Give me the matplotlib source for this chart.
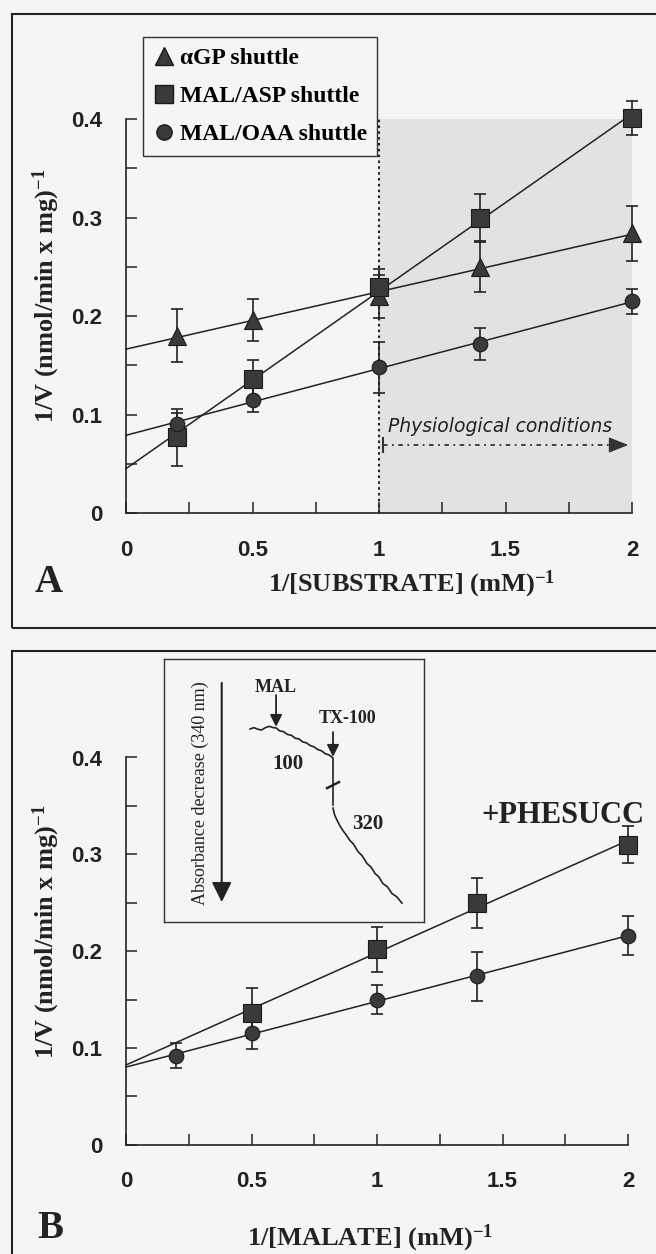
import numpy as np
import matplotlib
matplotlib.use('Agg')
import matplotlib.pyplot as plt
from matplotlib.lines import Line2D
from matplotlib.patches import Rectangle
from matplotlib.ticker import MultipleLocator, FuncFormatter

plt.rcParams['mathtext.fontset'] = 'custom'
plt.rcParams['mathtext.rm'] = 'Liberation Serif'
plt.rcParams['mathtext.bf'] = 'Liberation Serif:bold'
plt.rcParams['mathtext.it'] = 'Liberation Serif:italic'

# ---- panel A: 1/V vs 1/[substrate] ----
x_a = [0.2, 0.5, 1.0, 1.4, 2.0]
agp_y = [0.180, 0.196, 0.220, 0.250, 0.284]
agp_err = [0.027, 0.021, 0.022, 0.025, 0.028]
asp_y = [0.077, 0.136, 0.230, 0.300, 0.401]
asp_err = [0.029, 0.020, 0.018, 0.024, 0.017]
oaa_y = [0.091, 0.115, 0.148, 0.172, 0.215]
oaa_err = [0.011, 0.012, 0.026, 0.016, 0.013]
legend_labels = ['\u03b1GP shuttle', 'MAL/ASP shuttle', 'MAL/OAA shuttle']

# ---- panel B: +PHESUCC ----
x_b_asp = [0.5, 1.0, 1.4, 2.0]
b_asp_y = [0.136, 0.202, 0.250, 0.310]
b_asp_err = [0.026, 0.023, 0.026, 0.019]
x_b_oaa = [0.2, 0.5, 1.0, 1.4, 2.0]
b_oaa_y = [0.092, 0.116, 0.150, 0.174, 0.216]
b_oaa_err = [0.013, 0.017, 0.015, 0.025, 0.020]

# ---- inset: absorbance trace (arbitrary units, 0-100 box) ----
trace1_x = [33.1, 34.6, 36.0, 37.5, 39.0, 40.5, 42.0, 43.1, 44.6, 46.0, 47.5, 49.0,
            50.4, 51.9, 53.3, 54.8, 56.2, 57.7, 59.1, 60.6, 62.0, 63.5, 65.0, 65.0]
trace1_y = [73.4, 73.9, 73.3, 73.0, 73.9, 74.4, 73.9, 73.8, 72.6, 72.4, 71.3, 71.0,
            69.9, 69.6, 68.5, 68.1, 67.1, 66.6, 65.6, 65.1, 64.0, 63.5, 62.4, 44.5]
trace2_x = [65.0, 65.6, 66.5, 67.6, 68.8, 70.0, 71.5, 72.9, 74.6, 76.2, 78.1, 79.6,
            81.2, 82.6, 84.2, 85.9, 87.7, 89.5, 91.5]
trace2_y = [43.3, 40.8, 38.8, 36.7, 34.8, 33.2, 31.0, 29.6, 26.8, 25.2, 22.2, 20.9,
            18.4, 17.2, 14.6, 13.4, 10.8, 9.6, 7.2]
break_x = [62.7, 67.3]
break_y = [50.9, 53.2]

W, H = 656, 1254
bg = '#f5f5f5'
ink = '#222222'
mface = '#3a3a3a'


def fx(px):
    return px / W


def fy(py):
    return 1 - py / H


fig = plt.figure(figsize=(W / 100, H / 100), dpi=100, facecolor=bg)

serif = 'Liberation Serif'
sans = 'Liberation Sans'


def style_axes(ax):
    ax.set_xlim(0, 2)
    ax.set_ylim(0, 0.4)
    ax.set_facecolor('none')
    for s in ['top', 'right']:
        ax.spines[s].set_visible(False)
    for s in ['left', 'bottom']:
        ax.spines[s].set_linewidth(1.2)
        ax.spines[s].set_color(ink)
    ax.xaxis.set_major_locator(MultipleLocator(0.5))
    ax.xaxis.set_minor_locator(MultipleLocator(0.25))
    ax.yaxis.set_major_locator(MultipleLocator(0.1))
    ax.yaxis.set_minor_locator(MultipleLocator(0.05))
    fmt = FuncFormatter(lambda v, p: '%g' % round(v, 3))
    ax.xaxis.set_major_formatter(fmt)
    ax.yaxis.set_major_formatter(fmt)
    ax.tick_params(which='both', direction='in', length=8, width=1.1, color=ink)
    ax.tick_params(axis='y', pad=17)
    ax.tick_params(axis='x', pad=19)
    for lab in ax.get_xticklabels() + ax.get_yticklabels():
        lab.set_fontfamily(sans)
        lab.set_fontweight('bold')
        lab.set_fontsize(16)
        lab.set_color(ink)


def series(ax, x, y, err, marker, ms):
    k, b = np.polyfit(x, y, 1)
    xs = np.array([0.0, 2.0])
    ax.plot(xs, b + k * xs, '-', color=ink, lw=1.1, zorder=2, clip_on=False)
    ax.errorbar(x, y, yerr=err, fmt='none', ecolor=ink, elinewidth=1.2,
                capsize=4.5, capthick=1.2, zorder=3, clip_on=False)
    ax.plot(x, y, linestyle='none', marker=marker, ms=ms, mfc=mface, mec='#1a1a1a',
            mew=0.8, zorder=4, clip_on=False)


# ============ Panel A ============
ax_a = fig.add_axes([fx(126), fy(513.3), fx(632) - fx(126), fy(119) - fy(513.3)])
ax_a.fill_between([1, 2], 0, 0.4, color='#e2e2e2', lw=0, zorder=0)
ax_a.plot([1, 1], [0, 0.4], linestyle=(0, (1.2, 1.6)), color=ink, lw=1.5, zorder=1)

series(ax_a, x_a, agp_y, agp_err, '^', 12.5)
series(ax_a, x_a, asp_y, asp_err, 's', 13)
series(ax_a, x_a, oaa_y, oaa_err, 'o', 10.5)
style_axes(ax_a)

ax_a.text(1.036, 0.0825, 'Physiological conditions', fontfamily='DejaVu Sans',
          style='oblique', fontsize=13.5, color=ink, ha='left', va='baseline')
ax_a.plot([1.016, 1.93], [0.0693, 0.0693], linestyle=(0, (2.5, 2.5, 1, 2.5)),
          lw=1.3, color='#333333')
ax_a.annotate('', xy=(1.985, 0.0693), xytext=(1.93, 0.0693),
              arrowprops=dict(arrowstyle='-|>,head_length=0.55,head_width=0.22',
                              lw=1.0, color='#333333', mutation_scale=22,
                              shrinkA=0, shrinkB=0))
ax_a.plot([1.016], [0.0693], marker='|', ms=11, mew=1.5, color='#333333')

handles = [Line2D([], [], ls='none', marker='^', ms=13.5, mfc=mface, mec='#1a1a1a'),
           Line2D([], [], ls='none', marker='s', ms=13, mfc=mface, mec='#1a1a1a'),
           Line2D([], [], ls='none', marker='o', ms=11, mfc=mface, mec='#1a1a1a')]
leg = ax_a.legend(handles, legend_labels, loc='upper left',
                  bbox_to_anchor=(fx(143), fy(37)), bbox_transform=fig.transFigure,
                  borderaxespad=0, fancybox=False, edgecolor='#333333', facecolor=bg,
                  framealpha=1, borderpad=0.45, handlelength=0.85, handletextpad=0.25,
                  labelspacing=0.7, prop=dict(family=serif, weight='bold', size=17))
leg.get_frame().set_linewidth(1.0)

# ============ Panel B ============
ax_b = fig.add_axes([fx(126), fy(1144.9), fx(628) - fx(126), fy(757.5) - fy(1144.9)])
series(ax_b, x_b_asp, b_asp_y, b_asp_err, 's', 13)
series(ax_b, x_b_oaa, b_oaa_y, b_oaa_err, 'o', 10.5)
style_axes(ax_b)

# inset
ax_in = fig.add_axes([fx(164), fy(922), fx(424) - fx(164), fy(659) - fy(922)])
ax_in.set_xlim(0, 100)
ax_in.set_ylim(0, 100)
ax_in.set_facecolor(bg)
ax_in.set_xticks([])
ax_in.set_yticks([])
for s in ax_in.spines.values():
    s.set_linewidth(1.0)
    s.set_color('#333333')
ax_in.plot(trace1_x, trace1_y, color=ink, lw=1.2)
ax_in.plot(trace2_x, trace2_y, color=ink, lw=1.2)
ax_in.plot(break_x, break_y, color=ink, lw=1.8)
ax_in.annotate('', xy=(22.2, 7.6), xytext=(22.2, 90.9),
               arrowprops=dict(arrowstyle='-|>', lw=1.5, color=ink,
                               mutation_scale=30, shrinkA=0, shrinkB=0))
ax_in.annotate('', xy=(43.1, 74.2), xytext=(43.1, 86.3),
               arrowprops=dict(arrowstyle='-|>', lw=1.3, color=ink,
                               mutation_scale=18, shrinkA=0, shrinkB=0))
ax_in.annotate('', xy=(65.0, 62.8), xytext=(65.0, 72.2),
               arrowprops=dict(arrowstyle='-|>', lw=1.3, color=ink,
                               mutation_scale=18, shrinkA=0, shrinkB=0))
ax_in.text(13.8, 49, 'Absorbance decrease (340 nm)', rotation=90, fontfamily=serif,
           fontsize=13, ha='center', va='center', color=ink)
ax_in.text(43.1, 89.0, 'MAL', fontfamily=serif, fontweight='bold', fontsize=13,
           ha='center', va='center', color=ink)
ax_in.text(70.4, 77.2, 'TX-100', fontfamily=serif, fontweight='bold', fontsize=13,
           ha='center', va='center', color=ink)
ax_in.text(47.7, 60.1, '100', fontfamily=serif, fontweight='bold', fontsize=15,
           ha='center', va='center', color=ink)
ax_in.text(78.5, 37.3, '320', fontfamily=serif, fontweight='bold', fontsize=15,
           ha='center', va='center', color=ink)

# ============ labels and frames ============
ylab = r'1/V (nmol/min x mg)$^{\mathbf{-1}}$'
fig.text(fx(46), fy(296), ylab, rotation=90, fontfamily=serif, fontweight='bold',
         fontsize=19, ha='center', va='center', color=ink)
fig.text(fx(46), fy(932), ylab, rotation=90, fontfamily=serif, fontweight='bold',
         fontsize=19, ha='center', va='center', color=ink)
fig.text(fx(268), fy(591), r'1/[SUBSTRATE] (mM)$^{\mathbf{-1}}$', fontfamily=serif,
         fontweight='bold', fontsize=19, ha='left', va='baseline', color=ink)
fig.text(fx(247), fy(1245), r'1/[MALATE] (mM)$^{\mathbf{-1}}$', fontfamily=serif,
         fontweight='bold', fontsize=19, ha='left', va='baseline', color=ink)
fig.text(fx(49), fy(592), 'A', fontfamily=serif, fontweight='bold', fontsize=28,
         ha='center', va='baseline', color=ink)
fig.text(fx(50), fy(1238), 'B', fontfamily=serif, fontweight='bold', fontsize=28,
         ha='center', va='baseline', color=ink)
fig.text(fx(563), fy(823), '+PHESUCC', fontfamily=serif, fontweight='bold',
         fontsize=22, ha='center', va='baseline', color=ink)

fig.patches.append(Rectangle((fx(12), fy(628)), fx(700) - fx(12), fy(14) - fy(628),
                             fill=False, lw=1.5, ec=ink, transform=fig.transFigure))
fig.patches.append(Rectangle((fx(12), fy(1300)), fx(700) - fx(12), fy(651) - fy(1300),
                             fill=False, lw=1.5, ec=ink, transform=fig.transFigure))

fig.savefig('out.png', dpi=100, facecolor=bg)
